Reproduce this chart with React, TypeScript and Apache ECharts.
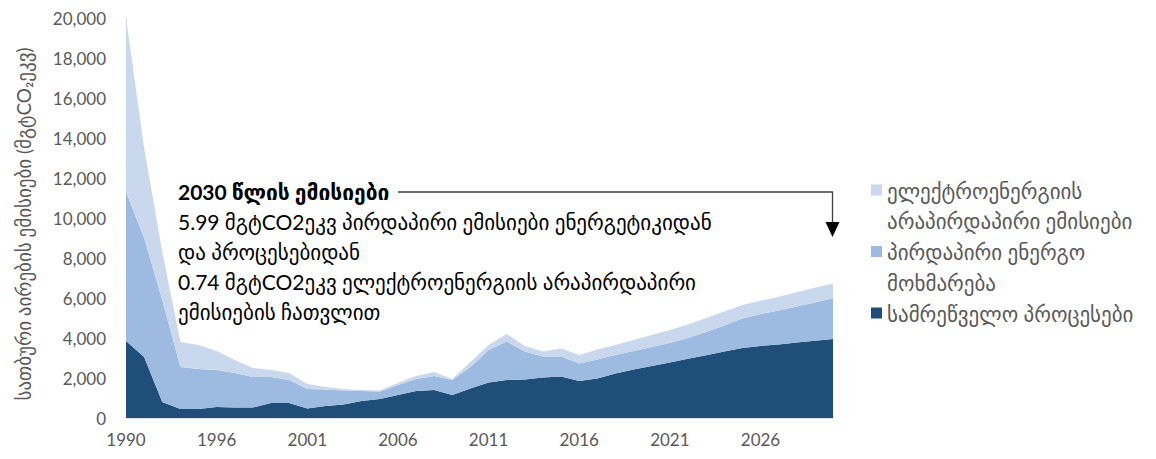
import React, { useEffect, useRef } from "react";
import * as echarts from "echarts";

const years = [
  "1990", "1991", "1992", "1993", "1994", "1996", "1997", "1998", "1999", "2000",
  "2001", "2002", "2003", "2004", "2005", "2006", "2007", "2008", "2009", "2010",
  "2011", "2012", "2013", "2014", "2015", "2016", "2017", "2018", "2019", "2020",
  "2021", "2022", "2023", "2024", "2025", "2026", "2027", "2028", "2029", "2030",
];

// სამრეწველო პროცესები
const industrial = [
  3850, 3050, 800, 450, 450, 550, 530, 530, 750, 750,
  480, 600, 680, 850, 950, 1150, 1350, 1400, 1150, 1480,
  1770, 1900, 1930, 2030, 2070, 1850, 1980, 2230, 2420, 2600,
  2780, 2960, 3140, 3320, 3500, 3600, 3680, 3780, 3860, 3950,
];

// პირდაპირი ენერგო მოხმარება
const directEnergy = [
  7450, 5950, 5100, 2100, 2000, 1850, 1720, 1520, 1300, 1150,
  970, 820, 700, 500, 380, 500, 600, 700, 750, 1070,
  1630, 1920, 1390, 1040, 1000, 880, 950, 920, 930, 950,
  970, 1040, 1160, 1300, 1480, 1600, 1700, 1800, 1920, 2040,
];

// ელექტროენერგიის არაპირდაპირი ემისიები
const electricity = [
  8700, 4500, 2400, 1250, 1200, 950, 650, 450, 350, 350,
  250, 130, 70, 50, 50, 100, 150, 200, 50, 250,
  250, 380, 280, 250, 410, 420, 500, 500, 550, 600,
  650, 680, 700, 700, 670, 660, 680, 710, 730, 740,
];

const seriesNames = [
  "სამრეწველო პროცესები",
  "პირდაპირი ენერგო მოხმარება",
  "ელექტროენერგიის არაპირდაპირი ემისიები",
];
const legendLines: Record<string, string[]> = {
  "ელექტროენერგიის არაპირდაპირი ემისიები": ["ელექტროენერგიის", "არაპირდაპირი ემისიები"],
  "პირდაპირი ენერგო მოხმარება": ["პირდაპირი ენერგო", "მოხმარება"],
  "სამრეწველო პროცესები": ["სამრეწველო პროცესები"],
};
const legendOrder = [
  "ელექტროენერგიის არაპირდაპირი ემისიები",
  "პირდაპირი ენერგო მოხმარება",
  "სამრეწველო პროცესები",
];
const yTitle = "სათბური აირების ემისიები (მგტCO₂ეკვ)";
const noteTitle = "2030 წლის ემისიები";
const noteLines = [
  "5.99 მგტCO2ეკვ პირდაპირი ემისიები ენერგეტიკიდან",
  "და პროცესებიდან",
  "0.74 მგტCO2ეკვ ელექტროენერგიის არაპირდაპირი",
  "ემისიების ჩათვლით",
];

const COLORS = ["#1F4E79", "#9DBBE1", "#C9D8ED"];
const FONT = "Lato, 'DejaVu Sans', sans-serif";
const GRAY = "#595959";

export default function App() {
  const ref = useRef<HTMLDivElement>(null);
  useEffect(() => {
    if (!ref.current) return;
    const chart = echarts.init(ref.current, undefined, { renderer: "svg" });
    const data = [industrial, directEnergy, electricity];
    const LH = 30.75;
    const legendCenters = [190, 251.5, 313];
    const legends = legendOrder.map((name, k) => {
      const lines = legendLines[name];
      const txt = lines.length > 1 ? ["", ...lines].join("\n") : lines[0];
      const n = lines.length > 1 ? 3 : 1;
      return {
        data: [name],
        orient: "vertical",
        left: 871,
        top: legendCenters[k] - (n * LH) / 2,
        padding: 0,
        itemWidth: 11,
        itemHeight: 11,
        icon: "rect",
        selectedMode: false,
        formatter: () => txt,
        textStyle: { color: GRAY, fontSize: 21, lineHeight: LH, fontFamily: FONT },
      };
    });
    const noteX = 178;
    const noteY0 = 191;
    const noteStep = 30;
    const graphics: any[] = [
      {
        type: "text",
        x: noteX,
        y: noteY0,
        style: {
          text: noteTitle,
          fill: "#000",
          font: `bold 21px ${FONT}`,
          verticalAlign: "middle",
        },
      },
      ...noteLines.map((t, k) => ({
        type: "text",
        x: noteX,
        y: noteY0 + noteStep * (k + 1),
        style: { text: t, fill: "#000", font: `21px ${FONT}`, verticalAlign: "middle" },
      })),
      {
        type: "polyline",
        shape: { points: [[398, 192], [832.5, 192], [832.5, 224]] },
        style: { stroke: "#404040", lineWidth: 1.3, fill: null },
      },
      {
        type: "polygon",
        shape: { points: [[825.5, 222], [839.5, 222], [832.5, 237]] },
        style: { fill: "#000" },
      },
    ];
    chart.setOption({
      animation: false,
      textStyle: { fontFamily: FONT },
      grid: { left: 126, right: 323, top: 18, bottom: 41 },
      legend: legends,
      xAxis: {
        type: "category",
        data: years,
        boundaryGap: false,
        axisLine: { show: true, lineStyle: { color: "#D9D9D9", width: 1.5 } },
        axisTick: { show: false },
        axisLabel: { interval: 4, color: GRAY, fontSize: 17, margin: 13, fontFamily: FONT },
      },
      yAxis: {
        type: "value",
        min: 0,
        max: 20000,
        interval: 2000,
        name: yTitle,
        nameLocation: "middle",
        nameGap: 93,
        nameTextStyle: { color: GRAY, fontSize: 19, fontFamily: FONT, padding: [0, 12, 0, 0] },
        axisLine: { show: true, lineStyle: { color: "#D9D9D9", width: 1 } },
        axisTick: { show: false },
        splitLine: { show: false },
        axisLabel: {
          color: GRAY,
          fontSize: 17,
          margin: 20,
          fontFamily: FONT,
          formatter: (v: number) => v.toLocaleString("en-US"),
        },
      },
      series: seriesNames.map((name, k) => ({
        name,
        type: "line",
        stack: "total",
        data: data[k],
        symbol: "none",
        lineStyle: { width: 0 },
        itemStyle: { color: COLORS[k] },
        areaStyle: { color: COLORS[k], opacity: 1 },
      })),
      graphic: graphics,
    });
    return () => chart.dispose();
  }, []);
  return (
    <div
      ref={ref}
      style={{ position: "absolute", left: 0, top: 0, width: 1156, height: 459 }}
    />
  );
}
